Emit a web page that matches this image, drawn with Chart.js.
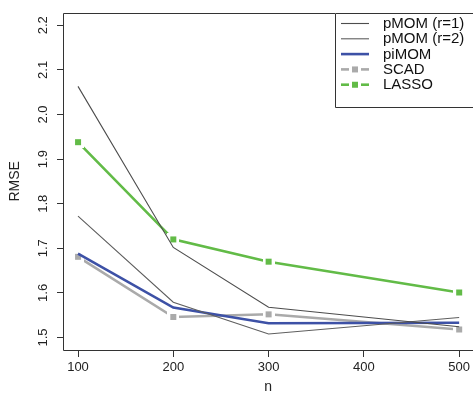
<!DOCTYPE html>
<html>
<head>
<meta charset="utf-8">
<script src="https://cdn.jsdelivr.net/npm/chart.js@4.4.1/dist/chart.umd.min.js"></script>
<style>
  html, body { margin: 0; padding: 0; background: #fff; overflow: hidden; }
  canvas { display: block; }
</style>
</head>
<body>
<canvas id="grafico" width="473" height="394"></canvas>
<script>
// valores
const nValues = [100, 200, 300, 500];
const xTicks = [100, 200, 300, 400, 500];
const yTicks = [1.5, 1.6, 1.7, 1.8, 1.9, 2.0, 2.1, 2.2];

const pmomR1 = [2.063, 1.702, 1.568, 1.524];
const pmomR2 = [1.772, 1.579, 1.508, 1.545];
const pimom = [1.688, 1.567, 1.532, 1.533];
const scad = [1.681, 1.546, 1.552, 1.518];
const lasso = [1.938, 1.720, 1.670, 1.601];

const seriesLabels = ['pMOM (r=1)', 'pMOM (r=2)', 'piMOM', 'SCAD', 'LASSO'];

// marcador quadrado com "halo" branco para imitar o type="b" do R
function squareMarker(color) {
    const c = document.createElement('canvas');
    c.width = 12; c.height = 12;
    const g = c.getContext('2d');
    g.fillStyle = '#ffffff';
    g.fillRect(0, 0, 12, 12);
    g.fillStyle = color;
    g.fillRect(3, 3, 6, 6);
    return c;
}

function toPoints(values) {
    return values.map((v, i) => ({ x: nValues[i], y: v }));
}

const colors = ['#4d4d4d', '#5e5e5e', '#3d51a6', '#aaaaaa', '#62bb47'];
const widths = [1.1, 1.1, 2.6, 2.6, 2.6];
const markers = [null, null, null, squareMarker(colors[3]), squareMarker(colors[4])];
const allSeries = [pmomR1, pmomR2, pimom, scad, lasso];

const datasets = allSeries.map((vals, i) => ({
    label: seriesLabels[i],
    data: toPoints(vals),
    borderColor: colors[i],
    backgroundColor: colors[i],
    borderWidth: widths[i],
    pointStyle: markers[i] || 'circle',
    pointRadius: markers[i] ? 6 : 0,
    tension: 0
}));

// moldura aberta à direita (o lado direito fica fora da imagem)
function openBox(ctx, l, t, r, b) {
    ctx.beginPath();
    ctx.moveTo(r, t);
    ctx.lineTo(l, t);
    ctx.lineTo(l, b);
    ctx.lineTo(r, b);
    ctx.stroke();
}

const boxPlugin = {
    id: 'boxPlugin',
    afterDraw(chart) {
        const a = chart.chartArea;
        const ctx = chart.ctx;
        ctx.save();
        ctx.strokeStyle = '#333';
        ctx.lineWidth = 1;
        openBox(ctx, Math.round(a.left) - 0.5, Math.round(a.top) + 0.5,
            chart.width + 5, Math.round(a.bottom) + 0.5);
        ctx.restore();
    }
};

// legenda no canto superior direito, como no R
const legendPlugin = {
    id: 'legendPlugin',
    afterDraw(chart) {
        const ctx = chart.ctx;
        const a = chart.chartArea;
        const x0 = 335, y0 = Math.round(a.top);
        ctx.save();
        ctx.fillStyle = '#fff';
        ctx.fillRect(x0, y0, chart.width, 94);
        ctx.strokeStyle = '#333';
        ctx.lineWidth = 1;
        openBox(ctx, x0 + 0.5, y0 + 0.5, chart.width + 5, y0 + 94.5);
        ctx.font = '15px "Liberation Sans", Arial, sans-serif';
        ctx.textBaseline = 'middle';
        chart.data.datasets.forEach((ds, i) => {
            const y = 23.5 + i * 15.3;
            ctx.strokeStyle = ds.borderColor;
            ctx.lineWidth = ds.borderWidth;
            ctx.beginPath();
            ctx.moveTo(341, y);
            ctx.lineTo(369, y);
            ctx.stroke();
            if (ds.pointRadius > 0) {
                ctx.drawImage(ds.pointStyle, 355 - 6, y - 6);
            }
            ctx.fillStyle = '#111';
            ctx.fillText(ds.label, 383, y + 0.5);
        });
        ctx.restore();
    }
};

new Chart(document.getElementById('grafico'), {
    type: 'line',
    data: { datasets: datasets },
    options: {
        responsive: false,
        devicePixelRatio: 1,
        animation: false,
        layout: { autoPadding: false, padding: { left: 0, top: 7, right: 0, bottom: 0 } },
        plugins: {
            legend: { display: false },
            tooltip: { enabled: false }
        },
        scales: {
            x: {
                type: 'linear',
                min: 85.3,
                max: 513.6,
                afterBuildTicks: function (scale) {
                    scale.ticks = xTicks.map(v => ({ value: v }));
                },
                afterFit: function (scale) { scale.height = 44; },
                grid: { drawOnChartArea: false, drawTicks: true, tickLength: 7, color: '#333' },
                border: { display: false },
                ticks: {
                    color: '#222',
                    padding: 3,
                    maxRotation: 0,
                    font: { family: '"Liberation Sans", Arial, sans-serif', size: 13 }
                },
                title: {
                    display: true,
                    text: 'n',
                    color: '#222',
                    padding: { top: 0, bottom: 0 },
                    font: { family: '"Liberation Sans", Arial, sans-serif', size: 14, lineHeight: 1 }
                }
            },
            y: {
                min: 1.472,
                max: 2.228,
                afterBuildTicks: function (scale) {
                    scale.ticks = yTicks.map(v => ({ value: v }));
                },
                afterFit: function (scale) { scale.width = 64; },
                grid: { drawOnChartArea: false, drawTicks: true, tickLength: 7, color: '#333' },
                border: { display: false },
                ticks: {
                    color: '#222',
                    padding: 5,
                    minRotation: 90,
                    maxRotation: 90,
                    crossAlign: 'center',
                    font: { family: '"Liberation Sans", Arial, sans-serif', size: 13 },
                    callback: function (value) { return value.toFixed(1); }
                },
                title: {
                    display: true,
                    text: 'RMSE',
                    color: '#222',
                    padding: { top: 7, bottom: 0 },
                    font: { family: '"Liberation Sans", Arial, sans-serif', size: 14 }
                }
            }
        }
    },
    plugins: [boxPlugin, legendPlugin]
});
</script>
</body>
</html>
